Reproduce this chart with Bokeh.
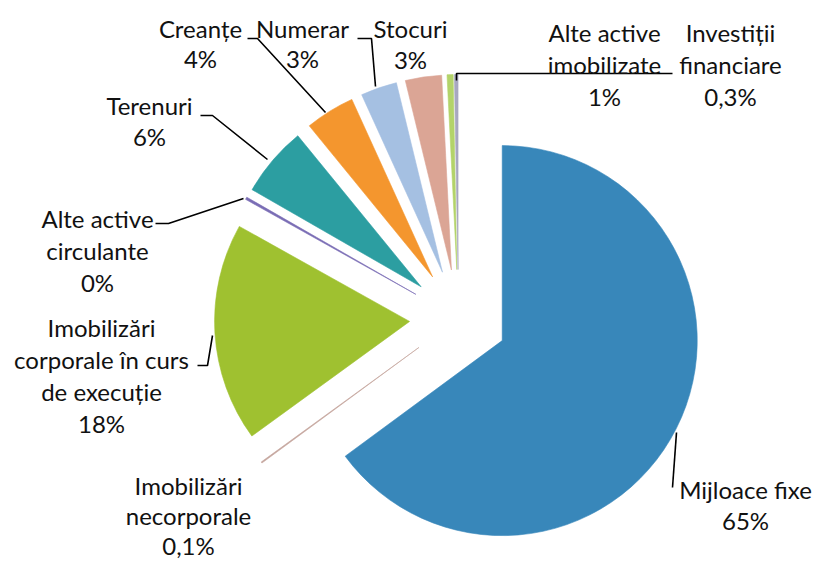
import numpy as np
from bokeh.plotting import figure
from bokeh.models import Range1d
from bokeh.embed import file_html
from bokeh.resources import INLINE
from bokeh.core.properties import value

# ---- data ----
categories = ["Mijloace fixe", "Imobilizări necorporale",
              "Imobilizări corporale în curs de execuție", "Alte active circulante",
              "Terenuri", "Creanțe", "Numerar", "Stocuri",
              "Alte active imobilizate", "Investiții financiare"]
shares = [64.9, 0.1, 18.1, 0.2, 5.8, 4.1, 3.0, 3.0, 0.5, 0.3]
pct_labels = ["65%", "0,1%", "18%", "0%", "6%", "4%", "3%", "3%", "1%", "0,3%"]
label_names = ["Mijloace fixe", "Imobilizări\nnecorporale",
               "Imobilizări\ncorporale în curs\nde execuție", "Alte active\ncirculante",
               "Terenuri", "Creanțe", "Numerar", "Stocuri",
               "Alte active\nimobilizate", "Investiții\nfinanciare"]
colors = ["#3887BA", "#C4A49C", "#9FC130", "#7A6DB5", "#2C9EA1",
          "#F4962E", "#A5C0E2", "#DBA595", "#B3D36A", "#A8A8C0"]

# ---- layout (pixel coordinates of the picture) ----
W, H = 816, 562
def X(sx): return sx
def Y(sy): return H - sy

center = (458, 318)      # pie centre (screen)
radius = 195
explode = 49

label_pos = [(745, 489), (188, 485), (101, 327), (97, 218), (149, 105),
             (200, 28), (302, 28), (410, 28), (604, 32), (730, 32)]
line_gaps = [31, 30, 32, 32, 31, 30, 30, 31, 32, 32]

leaders = [
    [(676, 432), (672, 487)],
    None,
    [(197, 365), (207, 365), (212, 335)],
    [(155, 223), (168, 223), (243, 198)],
    [(200, 115), (212, 115), (267, 159)],
    [(247, 38), (257, 38), (325, 112)],
    [(357, 38), (371, 38), (375, 86)],
    None,
    None,
    [(672, 73), (456, 73), (456, 80)],
]

p = figure(width=W, height=H, x_range=Range1d(0, W), y_range=Range1d(0, H),
           output_backend="svg", toolbar_location=None, min_border=0,
           x_axis_location=None, y_axis_location=None)
p.grid.visible = False
p.outline_line_color = None
p.background_fill_color = "white"

vals = np.array(shares, dtype=float)
frac = vals / vals.sum()
cum_end = np.cumsum(frac)
cum_start = cum_end - frac
a_start = np.pi / 2 - 2 * np.pi * cum_start
a_end = np.pi / 2 - 2 * np.pi * cum_end
mid = (a_start + a_end) / 2
cx = X(center[0]) + explode * np.cos(mid)
cy = Y(center[1]) + explode * np.sin(mid)

p.wedge(x=cx, y=cy, radius=radius, start_angle=a_end, end_angle=a_start,
        direction="anticlock", fill_color=colors, line_color=colors, line_width=0.6)

# leader lines
for seg in leaders:
    if seg is None:
        continue
    p.line([X(a) for a, b in seg], [Y(b) for a, b in seg], line_color="black", line_width=1.6)

# labels
tx, ty, tt = [], [], []
for name, pct, (lx, ly), gap in zip(label_names, pct_labels, label_pos, line_gaps):
    lines = name.split("\n") + [pct]
    for i, ln in enumerate(lines):
        tx.append(X(lx)); ty.append(Y(ly + i * gap)); tt.append(ln)
p.text(x=tx, y=ty, text=tt, text_align="center", text_baseline="middle",
       text_font=value("Lato"), text_font_size="24px", text_color="#111111")

open("out.html", "w").write(file_html(p, INLINE))
